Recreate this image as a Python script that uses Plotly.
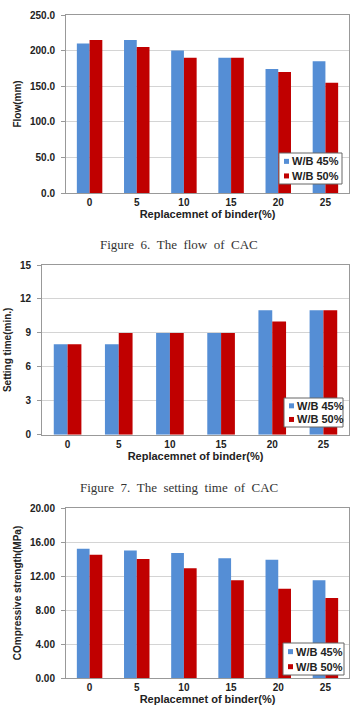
import plotly.graph_objects as go

categories = ["0", "5", "10", "15", "20", "25"]
series_names = ["W/B 45%", "W/B 50%"]

flow_45 = [210, 215, 200, 190, 174, 185]
flow_50 = [215, 205, 190, 190, 170, 155]

setting_45 = [8, 8, 9, 9, 11, 11]
setting_50 = [8, 9, 9, 9, 10, 11]

strength_45 = [15.2, 15.0, 14.7, 14.1, 13.9, 11.5]
strength_50 = [14.5, 14.0, 12.9, 11.5, 10.5, 9.4]

captions = ["Figure 6. The flow of CAC", "Figure 7. The setting time of CAC"]
y_titles = ["Flow(mm)", "Setting time(min.)", "COmpressive strength(MPa)"]
x_title = "Replacemnet of binder(%)"

BLUE = "#558ED5"
RED = "#C00000"
W, H = 356, 711
FONT = "Liberation Sans"

def py(p):
    return 1 - p / H

def px(p):
    return p / W

fig = go.Figure()

panels = [
    dict(a="", s=(flow_45, flow_50), top=15, bot=193, x0=66, rng=[0, 250], dtick=50, fmt=".1f", gap=0.46),
    dict(a="2", s=(setting_45, setting_50), top=265, bot=434.7, x0=42, rng=[0, 15], dtick=3, fmt="d", gap=0.45),
    dict(a="3", s=(strength_45, strength_50), top=508, bot=678, x0=66, rng=[0, 20], dtick=4, fmt=".2f", gap=0.46),
]
# legend boxes: (x0, y0, x1, y1) in px
leg_boxes = [(279, 153, 342, 184), (284, 398, 343, 427), (283, 643, 344, 675)]

tickfont = dict(family=FONT, size=10, color="#222", weight="bold")
layout = {}
for i, p in enumerate(panels):
    a = p["a"]
    for name, vals, col in zip(series_names, p["s"], [BLUE, RED]):
        fig.add_trace(go.Bar(x=categories, y=vals, name=name, marker_color=col,
                             marker_line_width=0, xaxis="x" + a, yaxis="y" + a,
                             showlegend=False))
    layout["xaxis" + a] = dict(domain=[px(p["x0"]), px(349)], anchor="y" + a,
                               showline=True, linecolor="#999", mirror=True, linewidth=1,
                               ticks="", tickfont=tickfont,
                               title=dict(text=x_title, standoff=0,
                                          font=dict(family=FONT, size=11, color="#222", weight="bold")),
                               automargin=False)
    layout["yaxis" + a] = dict(domain=[py(p["bot"]), py(p["top"])], anchor="x" + a,
                               range=p["rng"], dtick=p["dtick"], tickformat=p["fmt"],
                               showgrid=True, gridcolor="#d4d4d4", gridwidth=1,
                               showline=True, linecolor="#999", mirror=True, linewidth=1,
                               zeroline=False, ticks="outside", ticklen=4, tickcolor="#999",
                               ticklabelstandoff=4,
                               tickfont=tickfont,
                               title=dict(text=y_titles[i], standoff=6,
                                          font=dict(family=FONT, size=10, color="#222", weight="bold")),
                               automargin=False)
    # legend drawn as box + swatches + text
    x0, y0, x1, y1 = leg_boxes[i]
    fig.add_shape(type="rect", xref="paper", yref="paper",
                  x0=px(x0), x1=px(x1), y0=py(y1), y1=py(y0),
                  line=dict(color="#666", width=1), fillcolor="white", layer="above")
    rows = [y0 + (y1 - y0) * 0.27, y0 + (y1 - y0) * 0.74]
    for name, col, ry in zip(series_names, [BLUE, RED], rows):
        fig.add_shape(type="rect", xref="paper", yref="paper",
                      x0=px(x0 + 5), x1=px(x0 + 10), y0=py(ry + 2.5), y1=py(ry - 2.5),
                      line=dict(width=0), fillcolor=col, layer="above")
        fig.add_annotation(text=name, x=px(x0 + 11), y=py(ry), xref="paper", yref="paper",
                           showarrow=False, xanchor="left", yanchor="middle",
                           font=dict(family=FONT, size=11, color="#222", weight="bold"))

fig.update_layout(**layout)
fig.update_layout(width=W, height=H, margin=dict(l=0, r=0, t=0, b=0),
                  paper_bgcolor="white", plot_bgcolor="white",
                  barmode="group", bargap=0.46, bargroupgap=0, showlegend=False)

for cap, yy in zip(captions, [245, 487]):
    spaced = cap.replace(" ", "\u00a0\u00a0")
    fig.add_annotation(text=spaced, x=px(179), y=py(yy), xref="paper", yref="paper",
                       showarrow=False, xanchor="center", yanchor="middle",
                       font=dict(family="Liberation Serif", size=13, color="#333"))

fig.write_html("out.html")
